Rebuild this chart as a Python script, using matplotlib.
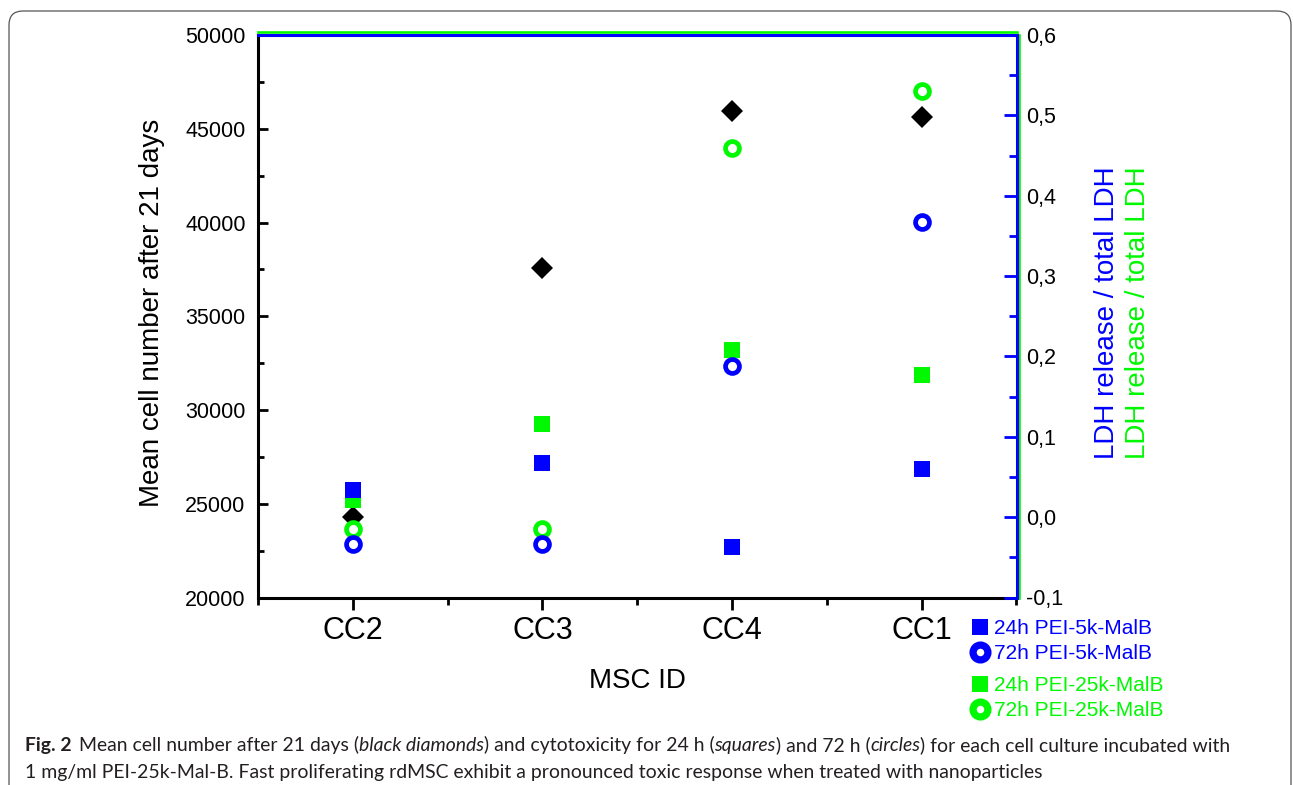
import matplotlib
matplotlib.use('Agg')
import matplotlib.pyplot as plt
from matplotlib.ticker import MultipleLocator, FuncFormatter, FixedLocator
from matplotlib.lines import Line2D
from matplotlib.patches import FancyBboxPatch
from matplotlib.transforms import IdentityTransform

# ---------------- data ----------------
categories = ['CC2', 'CC3', 'CC4', 'CC1']
cell_number = [24280, 37550, 45940, 45620]          # black diamonds (left axis)
ldh_24h_5k = [0.034, 0.068, -0.037, 0.060]          # blue squares (right axis)
ldh_72h_5k = [-0.034, -0.034, 0.188, 0.367]         # blue circles
ldh_24h_25k = [0.021, 0.116, 0.208, 0.177]          # green squares
ldh_72h_25k = [-0.015, -0.015, 0.460, 0.530]        # green circles
left_ticks = [20000, 25000, 30000, 35000, 40000, 45000, 50000]
right_ticks = [-0.1, 0.0, 0.1, 0.2, 0.3, 0.4, 0.5, 0.6]
legend_labels = ['24h PEI-5k-MalB', '72h PEI-5k-MalB', '24h PEI-25k-MalB', '72h PEI-25k-MalB']

BLUE = '#0000ff'
GREEN = '#00f800'
BLACK = '#000000'

plt.rcParams['font.family'] = ['Liberation Sans', 'DejaVu Sans']

W, H = 1293, 785
fig = plt.figure(figsize=(W / 100, H / 100), dpi=100)
fig.patch.set_facecolor('white')

L, R, T, B = 258, 1016.5, 35, 597.5
ax = fig.add_axes([L / W, 1 - B / H, (R - L) / W, (B - T) / H])
ax2 = ax.twinx()
ax.set_zorder(1)
ax2.set_zorder(2)
ax.patch.set_visible(True)
ax2.patch.set_visible(False)

x = list(range(1, len(categories) + 1))
ax.plot(x, cell_number, ls='none', marker='D', ms=11.6, mew=0, color=BLACK)

ax2.plot(x, ldh_24h_25k, ls='none', marker='s', ms=12, mew=0, color=GREEN)
ax2.plot(x, ldh_24h_5k, ls='none', marker='s', ms=12, mew=0, color=BLUE)
ax2.plot(x, ldh_72h_25k, ls='none', marker='o', ms=10, mew=3.4, mfc='white', mec=GREEN)
ax2.plot(x, ldh_72h_5k, ls='none', marker='o', ms=10, mew=3.4, mfc='white', mec=BLUE)

ax.set_xlim(0.5, len(categories) + 0.5)
ax.set_ylim(left_ticks[0], left_ticks[-1])
ax2.set_ylim(right_ticks[0], right_ticks[-1])

ax.set_xticks(x)
ax.set_xticklabels(categories)
ax.xaxis.set_minor_locator(FixedLocator([i + 0.5 for i in range(len(categories) + 1)]))
ax.set_yticks(left_ticks)
ax.yaxis.set_minor_locator(MultipleLocator(2500))
ax2.set_yticks(right_ticks)
ax2.yaxis.set_minor_locator(MultipleLocator(0.05))
ax2.yaxis.set_major_formatter(FuncFormatter(lambda v, _: f"{v:.1f}".replace('.', ',')))

ax.tick_params(axis='y', which='major', direction='in', length=7, width=2,
               labelsize=15.5, pad=9, colors=BLACK, right=False)
ax.tick_params(axis='y', which='minor', direction='in', length=4.3, width=2, right=False)
ax.tick_params(axis='x', which='major', direction='out', length=8.5, width=2,
               labelsize=22, pad=5, top=False)
ax.tick_params(axis='x', which='minor', direction='out', length=5, width=2, top=False)
ax2.tick_params(axis='y', which='major', direction='in', length=9.5, width=2,
                color=BLUE, labelcolor=BLACK, labelsize=15.5, pad=7)
ax2.tick_params(axis='y', which='minor', direction='in', length=5.5, width=2, color=BLUE)

lw = 2.2
ax.spines['left'].set(color=BLACK, lw=lw)
ax.spines['bottom'].set(color=BLACK, lw=lw)
ax.spines['top'].set(color=BLUE, lw=lw)
ax.spines['right'].set(color=GREEN, lw=1.9)
ax.spines['right'].set_position(('outward', 2.1))
ax2.spines['left'].set_visible(False)
ax2.spines['bottom'].set_visible(False)
ax2.spines['right'].set(color=BLUE, lw=lw)
ax2.spines['top'].set(color=GREEN, lw=1.9)
ax2.spines['top'].set_position(('outward', 2.1))

ax.set_ylabel('Mean cell number after 21 days', fontsize=20)
ax.yaxis.set_label_coords((165 - L) / (R - L), (B - 313) / (B - T) + 0.0)
ax.set_xlabel('MSC ID', fontsize=20)
ax.xaxis.set_label_coords(0.5, (B - 668) / (B - T))

fig.text(1107 / W, 1 - 313 / H, 'LDH release / total LDH', rotation=90,
         ha='center', va='center', fontsize=20, color=BLUE)
fig.text(1138 / W, 1 - 313 / H, 'LDH release / total LDH', rotation=90,
         ha='center', va='center', fontsize=20, color=GREEN)

# legends
h1 = [Line2D([], [], ls='none', marker='s', ms=11, mew=0, color=BLUE),
      Line2D([], [], ls='none', marker='o', ms=10.7, mew=5.2, mfc='white', mec=BLUE)]
h2 = [Line2D([], [], ls='none', marker='s', ms=11, mew=0, color=GREEN),
      Line2D([], [], ls='none', marker='o', ms=10.7, mew=5.2, mfc='white', mec=GREEN)]
leg_kw = dict(loc='upper left', bbox_transform=fig.transFigure, frameon=False,
              fontsize=15, handlelength=0.8, handletextpad=0.25, borderpad=0,
              borderaxespad=0, labelspacing=0.3)
fig.legend(h1, legend_labels[:2], bbox_to_anchor=(971.7 / W, 1 - 619 / H),
           labelcolor=BLUE, **leg_kw)
fig.legend(h2, legend_labels[2:], bbox_to_anchor=(971.7 / W, 1 - 676 / H),
           labelcolor=GREEN, **leg_kw)

# outer rounded frame
frame = FancyBboxPatch((9, -40), 1282, H - 11 + 40,
                       boxstyle='round,pad=0,rounding_size=14',
                       transform=IdentityTransform(), fill=False,
                       ec='#555555', lw=0.9)
fig.add_artist(frame)

# caption
CAP_COLOR = '#231f20'
cap_fs = 13.95
cap_kw = dict(family='Lato', fontsize=cap_fs, color=CAP_COLOR)
line1 = [("Fig. 2", 'bold', 'normal', 0),
         ("Mean cell number after 21 days (", 'normal', 'normal', 5),
         ("black diamonds", 'normal', 'italic', 0),
         (") and cytotoxicity for 24 h (", 'normal', 'normal', 0),
         ("squares", 'normal', 'italic', 0),
         (") and 72 h (", 'normal', 'normal', 0),
         ("circles", 'normal', 'italic', 0),
         (") for each cell culture incubated with", 'normal', 'normal', 0)]
prev = None
for txt, wt, st, gap in line1:
    if prev is None:
        prev = fig.text(25 / W, 1 - 751 / H, txt, ha='left', va='baseline',
                        fontweight=wt, fontstyle=st, **cap_kw)
    else:
        prev = fig.add_artist(matplotlib.text.Annotation(
            txt, xy=(1, 0), xycoords=prev, xytext=(gap, 0),
            textcoords='offset points', ha='left', va='bottom',
            fontweight=wt, fontstyle=st, **cap_kw))
fig.text(25 / W, 1 - 778 / H,
         "1 mg/ml PEI-25k-Mal-B. Fast proliferating rdMSC exhibit a pronounced toxic response when treated with nanoparticles",
         ha='left', va='baseline', **cap_kw)

fig.savefig('out.png', dpi=100)
